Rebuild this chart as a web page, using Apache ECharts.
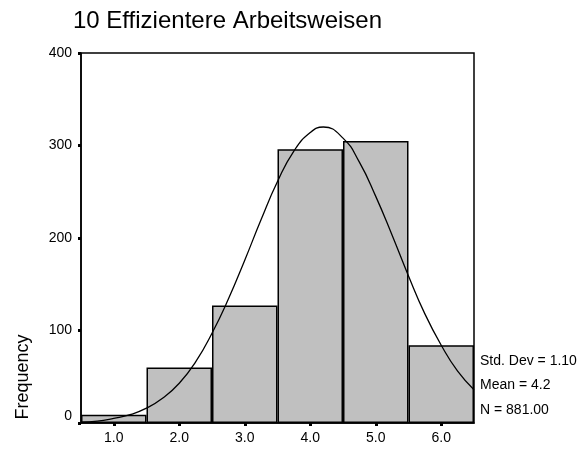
<!DOCTYPE html>
<html>
<head>
<meta charset="utf-8">
<script src="https://cdn.jsdelivr.net/npm/echarts@6/dist/echarts.min.js"></script>
<style>
html,body{margin:0;padding:0;background:#fff;}
#chart{width:584px;height:451px;}
</style>
</head>
<body>
<div id="chart"></div>
<script>
var categories = ['1.0', '2.0', '3.0', '4.0', '5.0', '6.0'];
var frequencies = [9, 60, 127, 296, 305, 84];
var yTicks = [0, 100, 200, 300, 400];
var curveX = [0.5, 0.75, 1.0, 1.25, 1.5, 1.75, 2.0, 2.25, 2.5, 2.75, 3.0, 3.25, 3.5, 3.75, 4.0, 4.2, 4.5, 4.75, 5.0, 5.25, 5.5, 5.75, 6.0, 6.25, 6.5];
var curveY = [1, 2, 5, 9, 16, 27, 43, 66, 97, 134, 176, 220, 261, 294, 314, 320, 308, 282, 245, 203, 159, 118, 84, 56, 36];
var titleText = '10 Effizientere Arbeitsweisen';
var yName = 'Frequency';
var statLines = ['Std. Dev = 1.10', 'Mean = 4.2', 'N = 881.00'];

var FONT = '"Liberation Sans", Arial, sans-serif';
var chart = echarts.init(document.getElementById('chart'), null, {renderer: 'canvas'});
var curveData = curveX.map(function (x, i) { return [x, curveY[i]]; });

var option = {
  backgroundColor: '#fff',
  animation: false,
  grid: {left: 81, top: 53, right: 110, bottom: 28, show: true, borderColor: '#000', borderWidth: 1.5, backgroundColor: 'transparent'},
  xAxis: [{
    type: 'category',
    data: categories,
    boundaryGap: true,
    axisLine: {show: true, lineStyle: {color: '#000', width: 1.5}},
    axisTick: {show: true, alignWithLabel: true, length: 3, lineStyle: {color: '#000', width: 3}},
    axisLabel: {color: '#000', fontFamily: FONT, fontSize: 14, margin: 8},
    splitLine: {show: false}
  }, {
    type: 'value',
    min: 0.5,
    max: 6.5,
    show: false
  }],
  yAxis: {
    type: 'value',
    min: yTicks[0],
    max: yTicks[yTicks.length - 1],
    interval: 100,
    axisLine: {show: true, lineStyle: {color: '#000', width: 1.5}},
    axisTick: {show: true, length: 3, lineStyle: {color: '#000', width: 3}},
    axisLabel: {
      color: '#000', fontFamily: FONT, fontSize: 14, margin: 9,
      formatter: function (v) { return v === 0 ? '{z|0}' : String(v); },
      rich: {z: {color: '#000', fontFamily: FONT, fontSize: 14, padding: [0, 0, 13, 0]}}
    },
    splitLine: {show: false}
  },
  series: [{
    type: 'bar',
    data: frequencies,
    xAxisIndex: 0,
    barCategoryGap: '0%',
    itemStyle: {color: '#c0c0c0', borderColor: '#000', borderWidth: 1.5},
    z: 2
  }, {
    type: 'line',
    xAxisIndex: 1,
    data: curveData,
    smooth: true,
    symbol: 'none',
    lineStyle: {color: '#000', width: 1.3},
    z: 3
  }],
  graphic: [{
    type: 'text', left: 73, top: 9,
    style: {text: titleText, font: '24px ' + FONT, fill: '#000'}
  }, {
    type: 'text', x: 23, y: 377, rotation: Math.PI / 2,
    style: {text: yName, font: '18px ' + FONT, fill: '#000', align: 'center', verticalAlign: 'middle'}
  }].concat(statLines.map(function (t, i) {
    return {type: 'text', x: 480, y: 361 + i * 24.5,
      style: {text: t, font: '14px ' + FONT, fill: '#000', align: 'left', verticalAlign: 'middle'}};
  }))
};
chart.setOption(option);
</script>
</body>
</html>
